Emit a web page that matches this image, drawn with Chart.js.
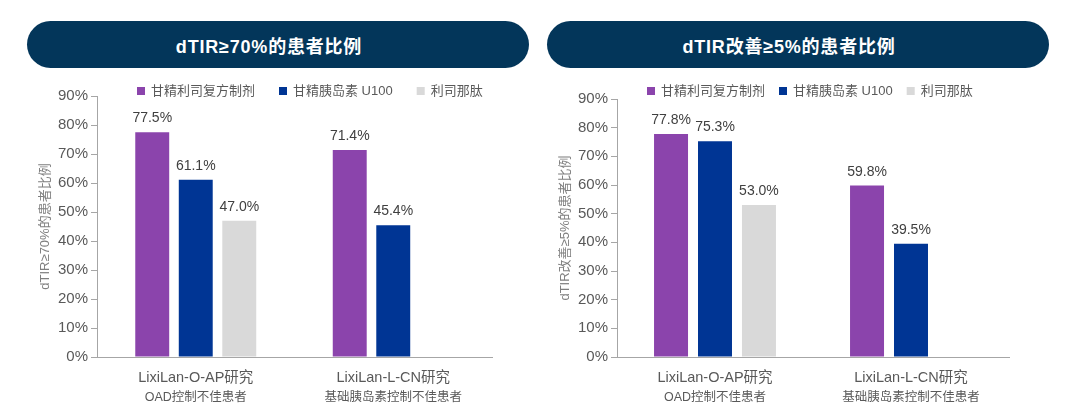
<!DOCTYPE html>
<html>
<head>
<meta charset="utf-8">
<script src="https://cdn.jsdelivr.net/npm/chart.js@4.4.1/dist/chart.umd.min.js"></script>
<style>
  body { margin: 0; background: #fff; width: 1080px; height: 417px; overflow: hidden; position: relative;
         font-family: "Liberation Sans", "Noto Sans CJK SC", sans-serif; }
  .pill { position: absolute; top: 21px; height: 47px; width: 502px; border-radius: 24px; background: #03365a;
          color: #fff; font-weight: bold; font-size: 18px; letter-spacing: 0.8px; display: flex;
          align-items: center; justify-content: center; box-sizing: border-box; padding-right: 18px; }
  .box { position: absolute; top: 72px; width: 540px; height: 345px; }
</style>
</head>
<body>
<div class="pill" style="left:27px">dTIR≥70%的患者比例</div>
<div class="pill" style="left:547px">dTIR改善≥5%的患者比例</div>
<div class="box" style="left:0"><canvas id="chartLeft"></canvas></div>
<div class="box" style="left:540px"><canvas id="chartRight"></canvas></div>
<script>
const FONT = '"Liberation Sans", "Noto Sans CJK SC", sans-serif';

const categories = ['LixiLan-O-AP研究', 'LixiLan-L-CN研究'];
const subLabels = ['OAD控制不佳患者', '基础胰岛素控制不佳患者'];
const seriesNames = ['甘精利司复方制剂', '甘精胰岛素 U100', '利司那肽'];
const seriesColors = ['#8b44ac', '#003594', '#d9d9d9'];

// dTIR >= 70%
const tir70Combo = [77.5, 71.4];
const tir70Glargine = [61.1, 45.4];
const tir70Lixi = [47.0, null];

// dTIR improvement >= 5%
const tir5Combo = [77.8, 59.8];
const tir5Glargine = [75.3, 39.5];
const tir5Lixi = [53.0, null];

const yMin = 0, yMax = 90, yStep = 10;

Chart.defaults.font.family = FONT;
Chart.defaults.color = '#595959';

const valueLabels = {
  id: 'valueLabels',
  afterDatasetsDraw(chart) {
    const ctx = chart.ctx;
    ctx.save();
    ctx.font = '14px ' + FONT;
    ctx.fillStyle = '#404040';
    ctx.textAlign = 'center';
    ctx.textBaseline = 'alphabetic';
    chart.data.datasets.forEach((ds, i) => {
      chart.getDatasetMeta(i).data.forEach((bar, j) => {
        const v = ds.data[j];
        if (v == null) return;
        ctx.fillText(v.toFixed(1) + '%', bar.x, bar.y - 10);
      });
    });
    ctx.restore();
  }
};

const subTicks = {
  id: 'subTicks',
  afterDraw(chart) {
    const ctx = chart.ctx;
    const xs = chart.scales.x;
    ctx.save();
    ctx.font = '12.5px ' + FONT;
    ctx.fillStyle = '#595959';
    ctx.textAlign = 'center';
    ctx.textBaseline = 'middle';
    subLabels.forEach((t, i) => ctx.fillText(t, xs.getPixelForTick(i), chart.chartArea.bottom + 41));
    ctx.restore();
  }
};

// legend drawn on top, starting from a given x
const topLegend = {
  id: 'topLegend',
  afterDraw(chart, args, opts) {
    const ctx = chart.ctx;
    ctx.save();
    ctx.font = '13px ' + FONT;
    ctx.textBaseline = 'middle';
    let x = opts.x;
    chart.data.datasets.forEach(ds => {
      ctx.fillStyle = ds.backgroundColor;
      ctx.fillRect(x, opts.y - 4, 8, 8);
      x += 14;
      ctx.fillStyle = '#595959';
      ctx.fillText(ds.label, x, opts.y);
      x += ctx.measureText(ds.label).width + opts.gap;
    });
    ctx.restore();
  }
};

function makeChart(id, series, yTitle, cfg) {
  new Chart(document.getElementById(id), {
    type: 'bar',
    data: {
      labels: categories,
      datasets: series.map((d, i) => ({
        label: seriesNames[i],
        data: d,
        backgroundColor: seriesColors[i],
        categoryPercentage: cfg.catPct,
        barPercentage: cfg.barPct
      }))
    },
    options: {
      responsive: true,
      maintainAspectRatio: false,
      animation: false,
      layout: { padding: { left: cfg.padLeft, right: cfg.padRight, top: cfg.padTop, bottom: 0 } },
      plugins: {
        legend: { display: false },
        tooltip: { enabled: false },
        topLegend: { x: cfg.legendX, y: 19, gap: cfg.legendGap }
      },
      scales: {
        x: {
          grid: { display: false },
          border: { display: true, color: '#a6a6a6', width: 1 },
          ticks: { font: { size: 14.5 }, color: '#595959', padding: 4 },
          afterFit: s => { s.height = 60; }
        },
        y: {
          min: yMin,
          max: yMax,
          ticks: { stepSize: yStep, font: { size: 15 }, color: '#595959', padding: 3,
                   callback: v => v + '%' },
          grid: { drawOnChartArea: false, drawTicks: true, tickLength: 6, color: '#a6a6a6' },
          border: { display: true, color: '#a6a6a6', width: 1 },
          title: { display: true, text: yTitle, font: { size: 13 }, color: '#7f7f7f', padding: 0 },
          afterFit: s => { s.width = 59; }
        }
      }
    },
    plugins: [valueLabels, subTicks, topLegend]
  });
}

makeChart('chartLeft', [tir70Combo, tir70Glargine, tir70Lixi], 'dTIR≥70%的患者比例',
  { padLeft: 38, padRight: 48, padTop: 24, catPct: 0.661, barPct: 0.78, legendX: 137, legendGap: 24 });
makeChart('chartRight', [tir5Combo, tir5Glargine, tir5Lixi], 'dTIR改善≥5%的患者比例',
  { padLeft: 18, padRight: 71, padTop: 27, catPct: 0.673, barPct: 0.773, legendX: 107, legendGap: 14 });
</script>
</body>
</html>
